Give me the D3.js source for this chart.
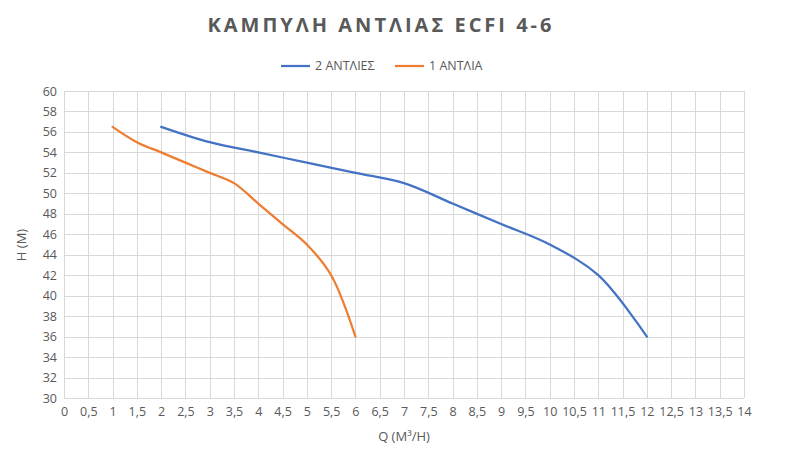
<!DOCTYPE html>
<html>
<head>
<meta charset="utf-8">
<script src="https://cdn.jsdelivr.net/npm/d3@7"></script>
<style>
  body { margin: 0; background: #fff; }
  text { font-family: "Liberation Sans Narrow", "Open Sans", sans-serif; fill: #595959; }
</style>
</head>
<body>
<div id="chart"></div>
<script>
// chart data
var title = "ΚΑΜΠΥΛΗ ΑΝΤΛΙΑΣ ECFI 4-6";
var seriesNames = ["2 ΑΝΤΛΙΕΣ", "1 ΑΝΤΛΙΑ"];
var seriesColors = ["#4472C4", "#ED7D31"];
var q2 = [2, 3, 4, 5, 6, 7, 8, 9, 10, 11, 12];
var h2 = [56.5, 55, 54, 53, 52, 51, 49, 47, 45, 42, 36];
var q1 = [1, 1.5, 2, 2.5, 3, 3.5, 4, 4.5, 5, 5.5, 6];
var h1 = [56.5, 55, 54, 53, 52, 51, 49, 47, 45, 42, 36];
var xTicks = d3.range(0, 14.01, 0.5);
var yTicks = d3.range(30, 60.01, 2);

var W = 794, H = 464;
var margin = { top: 91, right: 50, bottom: 66, left: 64 };
var width = W - margin.left - margin.right;
var height = H - margin.top - margin.bottom;

var svg = d3.select("#chart").append("svg")
    .attr("width", W)
    .attr("height", H);

var g = svg.append("g")
    .attr("transform", "translate(" + margin.left + "," + margin.top + ")");

var x = d3.scaleLinear().domain([0, 14]).range([0, width]);
var y = d3.scaleLinear().domain([30, 60]).range([height, 0]);

var fmt = function(d) { return String(d).replace(".", ","); };

// grid
g.append("g")
    .selectAll("line.v")
    .data(xTicks)
    .enter().append("line")
    .attr("x1", function(d) { return Math.round(x(d)) + 0.5; })
    .attr("x2", function(d) { return Math.round(x(d)) + 0.5; })
    .attr("y1", 0)
    .attr("y2", height)
    .attr("stroke", "#d9d9d9");

g.append("g")
    .selectAll("line.h")
    .data(yTicks)
    .enter().append("line")
    .attr("x1", 0)
    .attr("x2", width)
    .attr("y1", function(d) { return Math.round(y(d)) + 0.5; })
    .attr("y2", function(d) { return Math.round(y(d)) + 0.5; })
    .attr("stroke", "#d9d9d9");

// axes (labels only)
var xAxis = g.append("g")
    .attr("transform", "translate(0," + height + ")")
    .call(d3.axisBottom(x).tickValues(xTicks).tickFormat(fmt).tickSize(0).tickPadding(9));
var yAxis = g.append("g")
    .call(d3.axisLeft(y).tickValues(yTicks).tickSize(0).tickPadding(7));
[xAxis, yAxis].forEach(function(a) {
    a.select(".domain").remove();
    a.selectAll("text").style("font-size", "12.5px").attr("fill", "#595959");
});

// lines
var line = d3.line()
    .x(function(d) { return x(d[0]); })
    .y(function(d) { return y(d[1]); })
    .curve(d3.curveCatmullRom.alpha(0.5));

var series = [d3.zip(q2, h2), d3.zip(q1, h1)];
g.selectAll("path.s")
    .data(series)
    .enter().append("path")
    .attr("d", line)
    .attr("fill", "none")
    .attr("stroke", function(d, i) { return seriesColors[i]; })
    .attr("stroke-width", 2.25)
    .attr("stroke-linecap", "round");

// title
svg.append("text")
    .attr("x", 381)
    .attr("y", 32)
    .attr("text-anchor", "middle")
    .style("font-family", "'Open Sans', sans-serif")
    .style("font-size", "20px")
    .style("font-weight", "bold")
    .style("letter-spacing", "3px")
    .text(title);

// legend
var legX = [281, 395];
var leg = svg.selectAll("g.leg")
    .data(seriesNames)
    .enter().append("g")
    .attr("transform", function(d, i) { return "translate(" + legX[i] + ",66)"; });
leg.append("line")
    .attr("x1", 0).attr("x2", 29)
    .attr("stroke", function(d, i) { return seriesColors[i]; })
    .attr("stroke-width", 2.25);
leg.append("text")
    .attr("x", 34)
    .attr("dy", "0.35em")
    .style("font-size", "12.5px")
    .text(function(d) { return d; });

// axis titles
svg.append("text")
    .attr("x", 404)
    .attr("y", 441)
    .attr("text-anchor", "middle")
    .style("font-size", "13px")
    .text("Q (M³/H)");
svg.append("text")
    .attr("transform", "translate(26,245) rotate(-90)")
    .attr("text-anchor", "middle")
    .style("font-size", "13px")
    .text("H (M)");
</script>
</body>
</html>
